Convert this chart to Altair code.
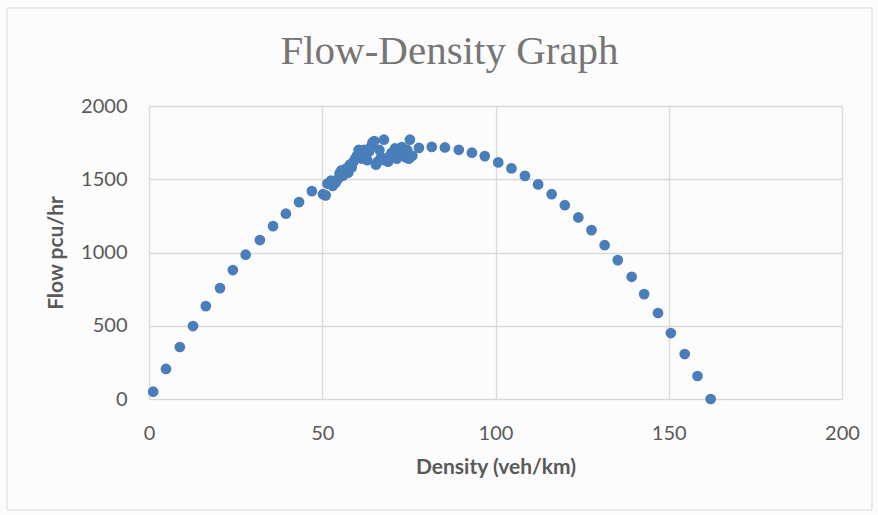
import altair as alt
import pandas as pd

density = [1.2, 4.9, 8.9, 12.7, 16.4, 20.5, 24.2, 27.9, 32.0, 35.8, 39.5, 43.3, 47.0, 50.2, 51.0,
           51.5, 52.5, 53.0, 53.8, 54.5, 55.0, 55.5, 56.0, 57.0, 57.5, 58.0, 58.5, 59.0, 59.5, 60.0,
           60.5, 61.0, 61.5, 62.0, 62.5, 63.0, 63.5, 64.0, 64.5, 65.0, 65.5, 66.0, 66.5, 67.0, 67.8,
           68.0, 69.0, 69.5, 70.0, 71.0, 71.5, 72.0, 72.5, 73.0, 74.0, 74.5, 75.0, 75.3, 76.0,
           77.9, 81.6, 85.4, 89.4, 93.2, 96.9, 100.8, 104.6, 108.5, 112.3, 116.2, 120.0, 123.9,
           127.7, 131.5, 135.3, 139.3, 142.9, 146.9, 150.6, 154.6, 158.3, 162.1]
flow = [50, 205, 355, 498, 634, 757, 880, 985, 1085, 1180, 1265, 1344, 1419, 1398, 1390,
        1470, 1490, 1455, 1475, 1500, 1540, 1560, 1525, 1575, 1545, 1600, 1580, 1620, 1640, 1660,
        1700, 1680, 1640, 1700, 1660, 1630, 1690, 1720, 1750, 1760, 1600, 1620, 1700, 1650, 1770,
        1630, 1620, 1660, 1680, 1710, 1640, 1660, 1690, 1720, 1650, 1700, 1640, 1770, 1660,
        1714, 1721, 1717, 1701, 1681, 1658, 1615, 1574, 1523, 1465, 1398, 1323, 1239,
        1153, 1050, 948, 834, 716, 587, 450, 307, 157, 0]
x_ticks = [0, 50, 100, 150, 200]
y_ticks = [0, 500, 1000, 1500, 2000]

df = pd.DataFrame({"Density": density, "Flow": flow})

frame = alt.Chart(pd.DataFrame({"k": [0]})).mark_rect(
    fillOpacity=0, stroke="#d9d9d9", strokeWidth=1
).encode(
    x=alt.value(-142), x2=alt.value(723), y=alt.value(-98), y2=alt.value(404)
)

points = alt.Chart(df).mark_circle(size=115, opacity=1, color="#4a7ebb").encode(
    x=alt.X("Density:Q", scale=alt.Scale(domain=[0, 200], nice=False),
            axis=alt.Axis(values=x_ticks, title="Density (veh/km)", format="d", labelFlush=False)),
    y=alt.Y("Flow:Q", scale=alt.Scale(domain=[0, 2000], nice=False),
            axis=alt.Axis(values=y_ticks, title="Flow pcu/hr", format="d")),
)

chart = alt.layer(frame, points).properties(
    width=693, height=293,
    autosize=alt.AutoSizeParams(type="none"),
    padding={"left": 149, "top": 106, "right": 36, "bottom": 116},
    background="#fcfcfc",
    title=alt.TitleParams("Flow-Density Graph", font="Liberation Serif", fontSize=41,
                          fontWeight="normal", color="#767676", anchor="middle",
                          frame="group", dx=-46, offset=-65),
).configure_view(stroke=None).configure_axis(
    grid=True, gridColor="#d9d9d9", gridWidth=1.3, domain=False, ticks=False,
    labelFont="Lato", labelFontSize=20, labelColor="#595959",
    titleFont="Lato", titleFontSize=21, titleFontWeight="bold", titleColor="#595959",
).configure_axisX(labelPadding=24, titlePadding=13).configure_axisY(labelPadding=22, titlePadding=14)

chart.save("out.html", embed_options={"renderer": "svg", "actions": False})
